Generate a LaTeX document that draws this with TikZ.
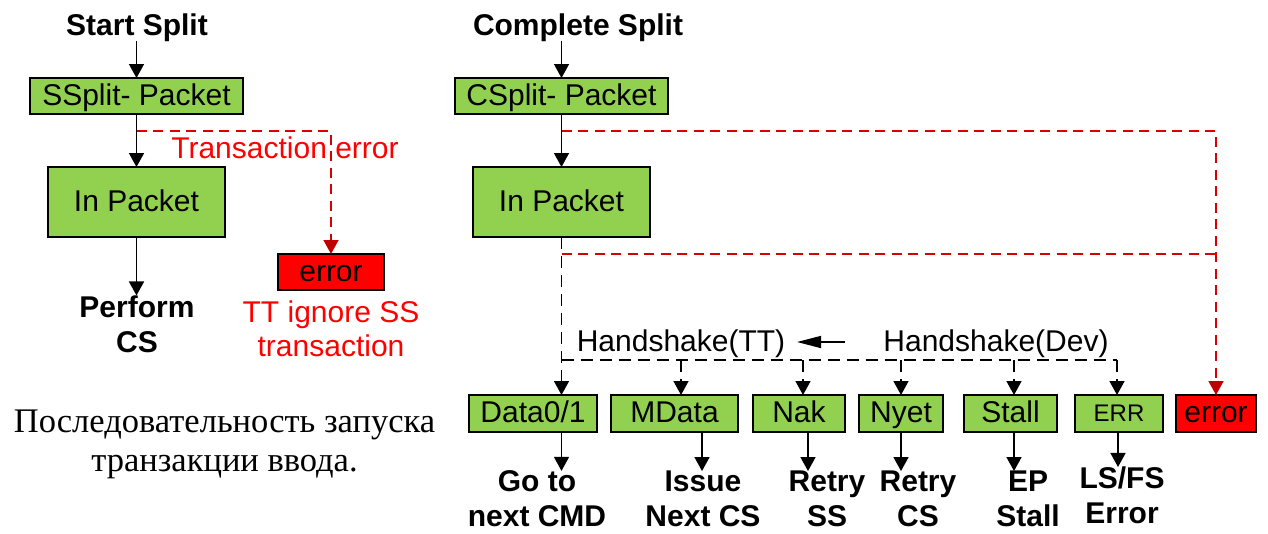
\documentclass[tikz,border=0pt]{standalone}
\usepackage{fontspec}
\setmainfont{Liberation Sans}
\newfontfamily\rusfont{Liberation Serif}
\usetikzlibrary{arrows.meta}
\definecolor{boxgreen}{HTML}{92D050}
\definecolor{errred}{HTML}{FF0000}
\definecolor{linered}{HTML}{D80000}
\definecolor{tipred}{HTML}{C00000}
\begin{document}
\begin{tikzpicture}[x=1pt,y=-1pt,
  every node/.style={inner sep=0pt,outer sep=0pt},
  btxt/.style={font=\fontsize{30}{35}\selectfont\bfseries,align=center},
  rtxt/.style={font=\fontsize{30}{34}\selectfont,text=errred,align=center},
  htxt/.style={font=\fontsize{30}{34}\selectfont,anchor=base},
  pkt/.style={draw=black,line width=1.6pt,fill=boxgreen,font=\fontsize{30}{34}\selectfont,
    text height=21.5pt,text depth=3.5pt},
  errbox/.style={pkt,fill=errred},
  flow/.style={line width=1.5pt,-{Triangle[length=14pt,width=15pt]}},
  rflow/.style={draw=linered,line width=1.5pt,dash pattern=on 10pt off 6.5pt,
    -{Triangle[length=14pt,width=15pt,color=tipred]}},
  rline/.style={draw=linered,line width=1.5pt,dash pattern=on 10pt off 6.5pt},
  bflow/.style={line width=1.5pt,dash pattern=on 12pt off 7pt,
    -{Triangle[length=14pt,width=15pt]}},
  bline/.style={line width=1.5pt,dash pattern=on 12pt off 7pt},
]
\useasboundingbox (0,0) rectangle (1268,533);

% ---------- start split ----------
\node[btxt,anchor=base] (t1) at (137,35) {Start Split};
\node[pkt,minimum width=213pt,minimum height=36pt] (ss) at (136.5,96) {SSplit- Packet};
\node[pkt,minimum width=177pt,minimum height=70pt] (ip1) at (136.5,202) {In Packet};
\node[errbox,minimum width=106pt,minimum height=36pt] (er1) at (331,272) {error};
\node[btxt] (pf) at (137,324) {Perform\\CS};
\node[rtxt] (tt) at (331,329) {TT ignore SS\\transaction};
\node[rtxt,anchor=base] (te) at (285,158) {Transaction error};
\coordinate (c1) at (136.5,131);

\draw[flow] (t1.south -| ss.north) -- (ss);
\draw[flow] (ss) -- (ip1);
\draw[flow] (ip1) -- (ip1 |- pf.north);
\draw[rflow] (c1) -| (er1);

% ---------- complete split ----------
\node[btxt,anchor=base] (t2) at (578,35) {Complete Split};
\node[pkt,minimum width=213pt,minimum height=36pt] (cs) at (561.5,96) {CSplit- Packet};
\node[pkt,minimum width=177pt,minimum height=70pt] (ip2) at (561.5,202) {In Packet};

\node[pkt,minimum width=128pt,minimum height=37pt] (d01) at (533,413.5) {Data0/1};
\node[pkt,minimum width=127pt,minimum height=37pt] (md) at (674.5,413.5) {MData};
\node[pkt,minimum width=92pt,minimum height=37pt] (nak) at (799,413.5) {Nak};
\node[pkt,minimum width=84pt,minimum height=37pt] (nyet) at (901,413.5) {Nyet};
\node[pkt,minimum width=93pt,minimum height=37pt] (stall) at (1010.5,413.5) {Stall};
\node[pkt,minimum width=88pt,minimum height=37pt,font=\fontsize{24}{28}\selectfont,
  text height=17pt,text depth=1pt] (err) at (1119,413.5) {ERR};
\node[errbox,minimum width=80pt,minimum height=37pt] (errR) at (1216,413.5) {error};

\node[btxt] (l1) at (537,499) {Go to\\next CMD};
\node[btxt] (l2) at (703,499) {Issue\\Next CS};
\node[btxt] (l3) at (827,499) {Retry\\SS};
\node[btxt] (l4) at (918,499) {Retry\\CS};
\node[btxt] (l5) at (1028,499) {EP\\Stall};
\node[btxt] (l6) at (1122,495.5) {LS/FS\\Error};

\node[htxt] (htt) at (681,351) {Handshake(TT)};
\node[htxt] (hdev) at (996,351) {Handshake(Dev)};
\coordinate (ha1) at (845,342);
\coordinate (ha2) at (797,342);
\draw[line width=1.5pt,-{Triangle[length=24pt,width=12pt]}] (ha1) -- (ha2);

\draw[flow] (t2.south -| cs.north) -- (cs);
\draw[flow] (cs) -- (ip2);

% error paths
\coordinate (c2) at (561.5,131);
\draw[rflow] (c2) -| (errR);
\coordinate (r2a) at (561.5,254);
\coordinate (r2b) at (1216,254);
\draw[rline] (r2a) -- (r2b);

% handshake bus
\draw[bflow] (ip2) -- (ip2 |- d01.north);
\coordinate (hs0) at (561.5,360);
\coordinate (hs1) at (681,360);
\coordinate (hs2) at (803,360);
\coordinate (hs3) at (901,360);
\coordinate (hs4) at (1014,360);
\coordinate (hs5) at (1117,360);
\draw[bline] (hs0) -- (hs5);
\draw[bflow] (hs1) -- (hs1 |- md.north);
\draw[bflow] (hs2) -- (hs2 |- nak.north);
\draw[bflow] (hs3) -- (hs3 |- nyet.north);
\draw[bflow] (hs4) -- (hs4 |- stall.north);
\draw[bflow] (hs5) -- (hs5 |- err.north);

% results
\coordinate (o1) at (561.5,432);
\coordinate (o2) at (702,432);
\coordinate (o3) at (808,432);
\coordinate (o4) at (901,432);
\coordinate (o5) at (1014,432);
\coordinate (o6) at (1118,432);
\draw[flow] (o1) -- (o1 |- l1.north);
\draw[flow] (o2) -- (o2 |- l2.north);
\draw[flow] (o3) -- (o3 |- l3.north);
\draw[flow] (o4) -- (o4 |- l4.north);
\draw[flow] (o5) -- (o5 |- l5.north);
\draw[flow] (o6) -- (o6 |- l6.north);

% caption
\node[font=\rusfont\fontsize{34.5}{39}\selectfont,align=center] (cap) at (224.5,444)
  {Последовательность запуска\\транзакции ввода.};
\end{tikzpicture}
\end{document}
